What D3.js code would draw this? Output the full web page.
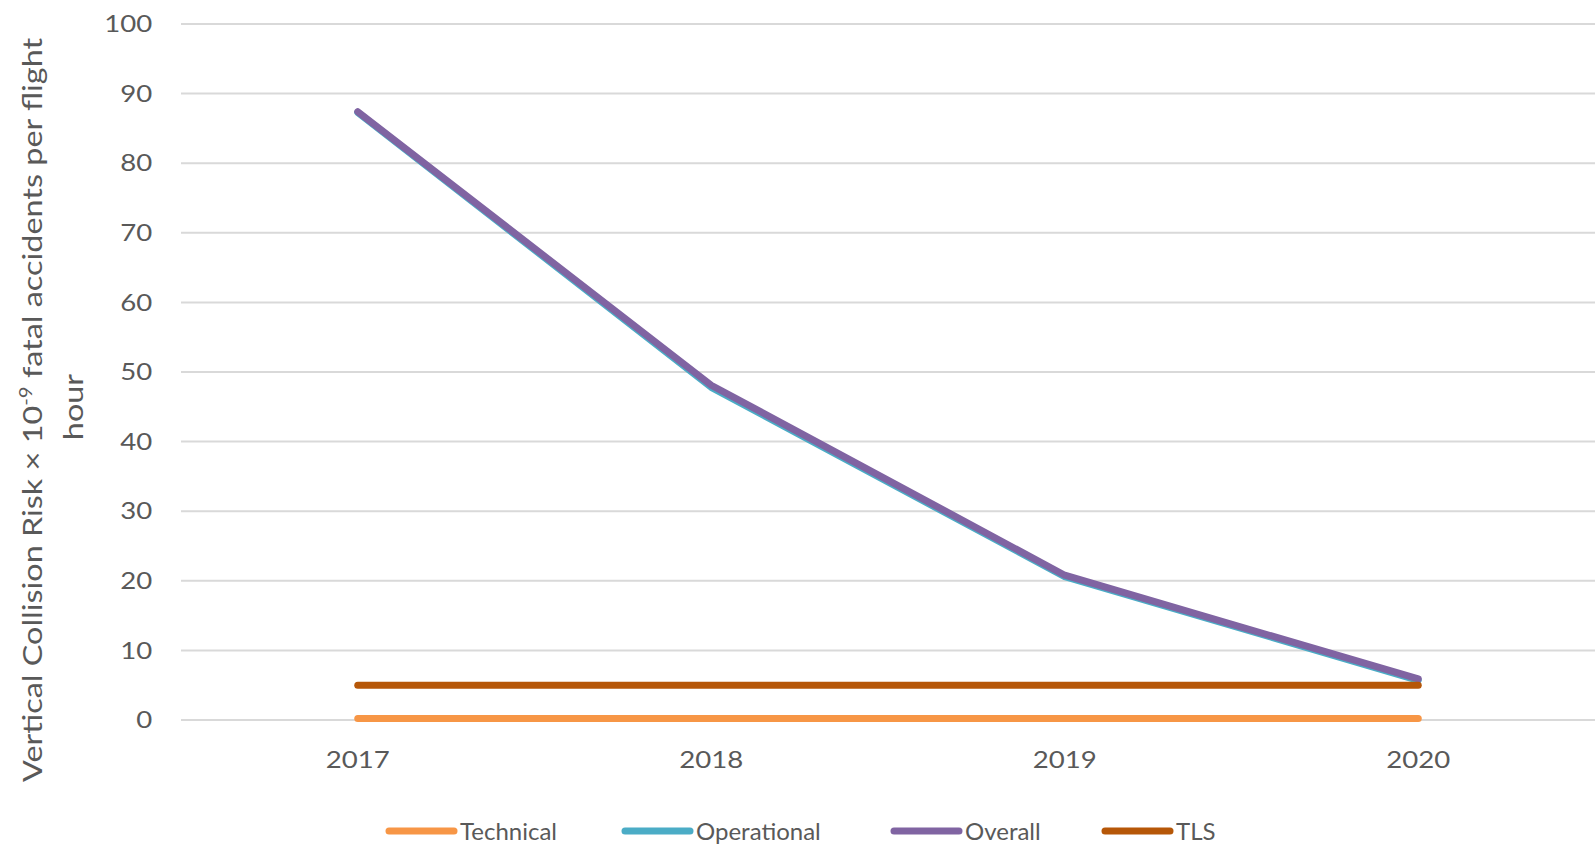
<!DOCTYPE html>
<html>
<head>
<meta charset="utf-8">
<script src="https://cdn.jsdelivr.net/npm/d3@7"></script>
<style>
  body { margin: 0; background: #fff; }
  text { font-family: Lato, "Open Sans", sans-serif; fill: #595959; }
</style>
</head>
<body>
<svg class="chart"></svg>
<script>
var years = ['2017', '2018', '2019', '2020'];
var technical = [0.2, 0.2, 0.2, 0.2];
var operational = [87.3, 47.8, 20.6, 5.7];
var overall = [87.4, 48.1, 20.8, 5.9];
var tls = [5, 5, 5, 5];
var yTicks = [0, 10, 20, 30, 40, 50, 60, 70, 80, 90, 100];

var seriesNames = ['Technical', 'Operational', 'Overall', 'TLS'];
var seriesColors = ['#F79646', '#4BACC6', '#8064A2', '#B65708'];
var seriesData = [technical, operational, overall, tls];

var W = 1595, H = 851;
var plotLeft = 181, plotRight = 1595, plotTop = 24, plotBottom = 720;

var svg = d3.select('.chart')
  .attr('width', W)
  .attr('height', H);

var xScale = d3.scaleBand()
  .domain(years)
  .range([plotLeft, plotRight]);

var yScale = d3.scaleLinear()
  .domain([0, 100])
  .range([plotBottom, plotTop]);

// gridlines
svg.append('g')
  .selectAll('line')
  .data(yTicks)
  .enter()
  .append('line')
  .attr('x1', plotLeft)
  .attr('x2', plotRight)
  .attr('y1', d => yScale(d))
  .attr('y2', d => yScale(d))
  .attr('stroke', '#D9D9D9')
  .attr('stroke-width', 2);

var yAxis = d3.axisLeft(yScale).tickValues(yTicks).tickSize(0).tickPadding(25);
var yg = svg.append('g')
  .attr('transform', 'translate(' + plotLeft + ',0)')
  .call(yAxis);
yg.select('.domain').remove();
yg.selectAll('text')
  .style('font-size', '24px')
  .attr('transform', 'scale(1.15,1)');

var xAxis = d3.axisBottom(xScale).tickSize(0).tickPadding(31);
var xg = svg.append('g')
  .attr('transform', 'translate(0,' + plotBottom + ')')
  .call(xAxis);
xg.select('.domain').remove();
xg.selectAll('text')
  .style('font-size', '24px')
  .attr('transform', 'scale(1.15,1)');

// series lines
var line = d3.line()
  .x((d, i) => xScale(years[i]) + xScale.bandwidth() / 2)
  .y(d => yScale(d));

seriesData.forEach((s, k) => {
  svg.append('path')
    .datum(s)
    .attr('d', line)
    .attr('fill', 'none')
    .attr('stroke', seriesColors[k])
    .attr('stroke-width', 7)
    .attr('stroke-linecap', 'round')
    .attr('stroke-linejoin', 'round');
});

// axis title (condensed, as in the source image)
var title = svg.append('text')
  .attr('transform', 'translate(42,410) rotate(-90) scale(1.2,1)')
  .attr('text-anchor', 'middle')
  .style('font-size', '27px');
title.append('tspan').text('Vertical Collision Risk × 10');
title.append('tspan').attr('baseline-shift', 'super').style('font-size', '17px').text('-9');
title.append('tspan').text(' fatal accidents per flight');
svg.append('text')
  .attr('transform', 'translate(83,407) rotate(-90) scale(1.2,1)')
  .attr('text-anchor', 'middle')
  .style('font-size', '27px')
  .text('hour');

// legend
var legendX = [386, 622, 891, 1102];
var legend = svg.append('g');
seriesNames.forEach((name, k) => {
  legend.append('line')
    .attr('x1', legendX[k] + 3)
    .attr('x2', legendX[k] + 68)
    .attr('y1', 831)
    .attr('y2', 831)
    .attr('stroke', seriesColors[k])
    .attr('stroke-width', 7)
    .attr('stroke-linecap', 'round');
  legend.append('text')
    .attr('x', legendX[k] + 74)
    .attr('y', 840)
    .style('font-size', '24px')
    .text(name);
});
</script>
</body>
</html>
